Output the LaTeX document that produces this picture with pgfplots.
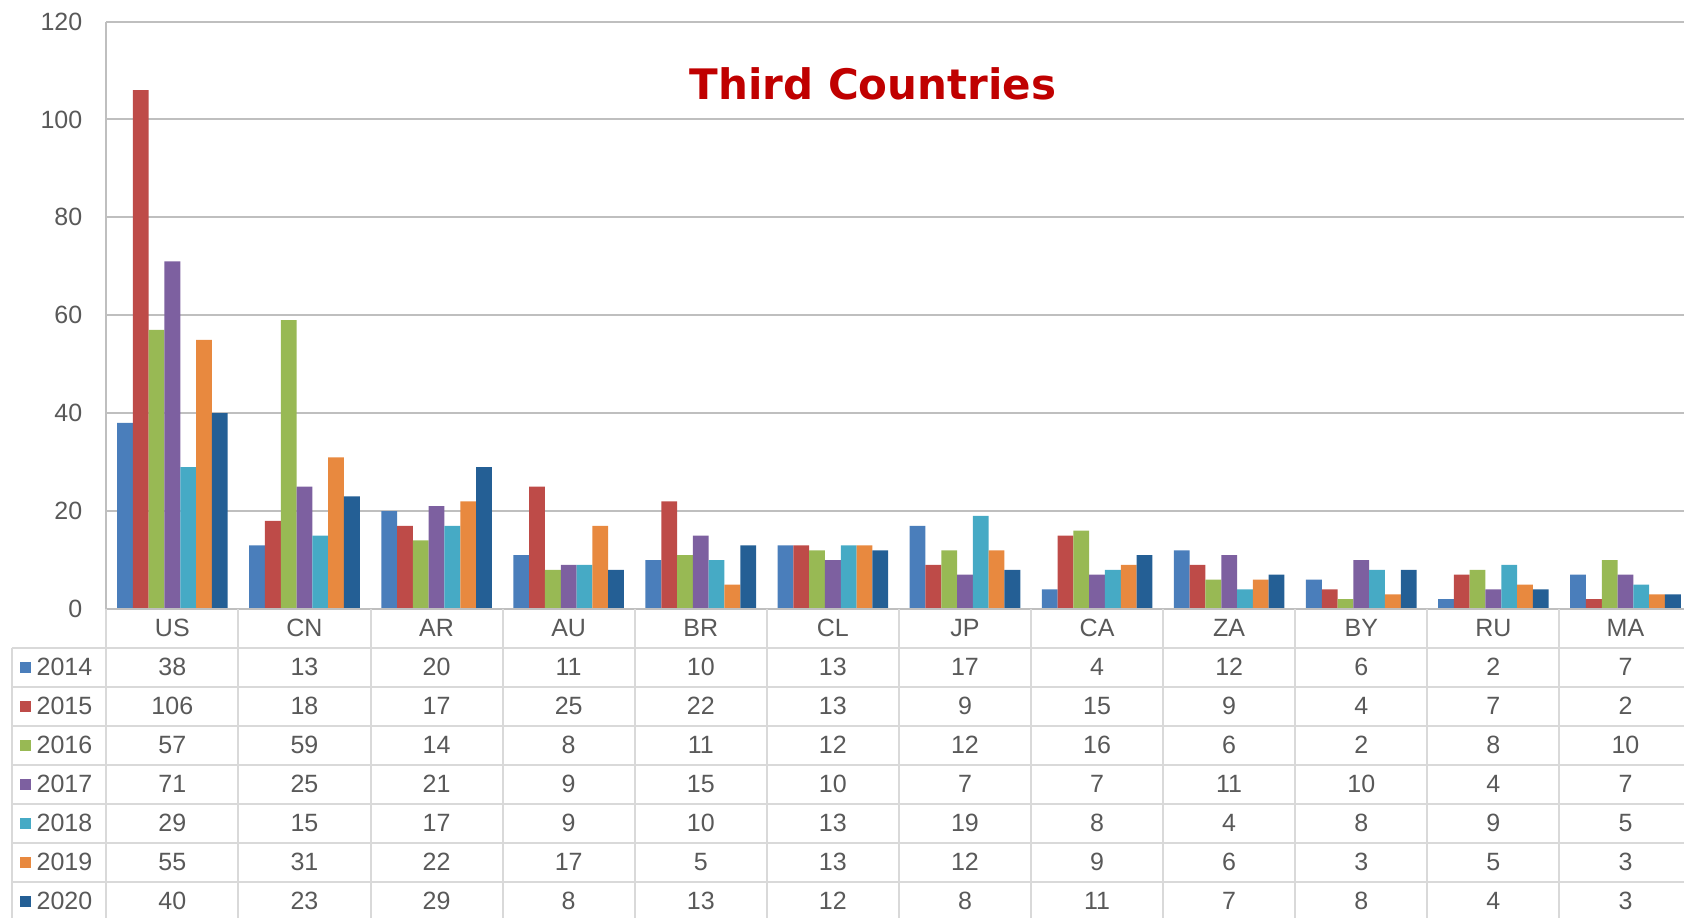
\documentclass[border=0pt]{standalone}
\usepackage{pgfplots}
\usepackage{pgfplotstable}
\pgfplotsset{compat=1.18}
\usepackage{fontspec}
\setmainfont{Liberation Sans}
\newfontfamily\titlefont{DejaVu Sans}
\definecolor{c2014}{HTML}{4A7EBB}
\definecolor{c2015}{HTML}{BE4B48}
\definecolor{c2016}{HTML}{98B954}
\definecolor{c2017}{HTML}{7D60A0}
\definecolor{c2018}{HTML}{46AAC5}
\definecolor{c2019}{HTML}{E8893F}
\definecolor{c2020}{HTML}{245F95}
\definecolor{txt}{HTML}{595959}
\definecolor{gridc}{HTML}{BFBFBF}
\definecolor{tbl}{HTML}{D9D9D9}
\definecolor{titlec}{HTML}{C00000}
\pgfplotstableread{
x  y2014 y2015 y2016 y2017 y2018 y2019 y2020
0  38 106 57 71 29 55 40
1  13 18 59 25 15 31 23
2  20 17 14 21 17 22 29
3  11 25 8 9 9 17 8
4  10 22 11 15 10 5 13
5  13 13 12 10 13 13 12
6  17 9 12 7 19 12 8
7  4 15 16 7 8 9 11
8  12 9 6 11 4 6 7
9  6 4 2 10 8 3 8
10 2 7 8 4 9 5 4
11 7 2 10 7 5 3 3
}\datatable
\begin{document}
\begin{tikzpicture}
\begin{scope}
\clip (-53.15pt,-154pt) rectangle (788.85pt,304.5pt);
\begin{axis}[
  at={(0pt,0pt)}, anchor=south west,
  x=66.05pt, y=2.4476pt,
  xmin=-0.5, xmax=11.443, ymin=0, ymax=120,
  ybar=0pt, bar width=7.9pt,
  axis line style={draw=none},
  ymajorgrids, grid style={draw=gridc, line width=1pt},
  ytick={0,20,...,120},
  xtick={0,...,11},
  xticklabels={US,CN,AR,AU,BR,CL,JP,CA,ZA,BY,RU,MA},
  major tick length=0pt,
  tick style={draw=none},
  /pgf/number format/assume math mode=true,
  yticklabel style={font=\fontsize{12.5}{14}\selectfont, text=txt, anchor=east, inner sep=0pt, xshift=-11.8pt},
  xticklabel style={font=\fontsize{12.5}{14}\selectfont, text=txt, anchor=center, inner sep=0pt, yshift=-9.65pt},
]
\addplot[fill=c2014, draw=none] table[x=x,y=y2014]{\datatable};
\addplot[fill=c2015, draw=none] table[x=x,y=y2015]{\datatable};
\addplot[fill=c2016, draw=none] table[x=x,y=y2016]{\datatable};
\addplot[fill=c2017, draw=none] table[x=x,y=y2017]{\datatable};
\addplot[fill=c2018, draw=none] table[x=x,y=y2018]{\datatable};
\addplot[fill=c2019, draw=none] table[x=x,y=y2019]{\datatable};
\addplot[fill=c2020, draw=none] table[x=x,y=y2020]{\datatable};
\end{axis}
% axis and table lines
\draw[gridc, line width=1pt] (0pt,293.7pt) -- (0pt,0pt);
\draw[gridc, line width=1pt] (0pt,0pt) -- (795pt,0pt);
\foreach \i in {0,...,6} {
  \pgfmathsetmacro\ly{-19.25-19.5*\i}
  \draw[tbl, line width=1pt] (-47.15pt,\ly pt) -- (795pt,\ly pt);
}
\draw[tbl, line width=1pt] (-47.15pt,-19.25pt) -- (-47.15pt,-160pt);
\draw[tbl, line width=1pt] (0pt,0pt) -- (0pt,-160pt);
\foreach \c in {1,...,11} {
  \draw[tbl, line width=1pt] ({\c*66.05pt},0pt) -- ({\c*66.05pt},-160pt);
}
% table body
\foreach \yr [count=\ri from 0] in {2014,2015,2016,2017,2018,2019,2020} {
  \pgfmathsetmacro\yy{-29-19.5*\ri}
  \fill[c\yr] (-43.15pt,\yy pt-2.75pt) rectangle ++(5.5pt,5.5pt);
  \node[anchor=west, inner sep=0pt, text=txt, font=\fontsize{12.5}{14}\selectfont] at (-35pt,\yy pt) {\yr};
  \foreach \c in {0,...,11} {
    \pgfplotstablegetelem{\c}{y\yr}\of\datatable
    \node[inner sep=0pt, text=txt, font=\fontsize{12.5}{14}\selectfont] at ({(\c+0.5)*66.05pt},\yy pt) {\pgfplotsretval};
  }
}
\node[text=titlec, font=\titlefont\bfseries\fontsize{21}{24}\selectfont] at (383.35pt,262.5pt) {Third Countries};
\end{scope}
\pgfresetboundingbox
\useasboundingbox (-53.15pt,-154pt) rectangle (788.85pt,304.5pt);
\end{tikzpicture}
\end{document}
